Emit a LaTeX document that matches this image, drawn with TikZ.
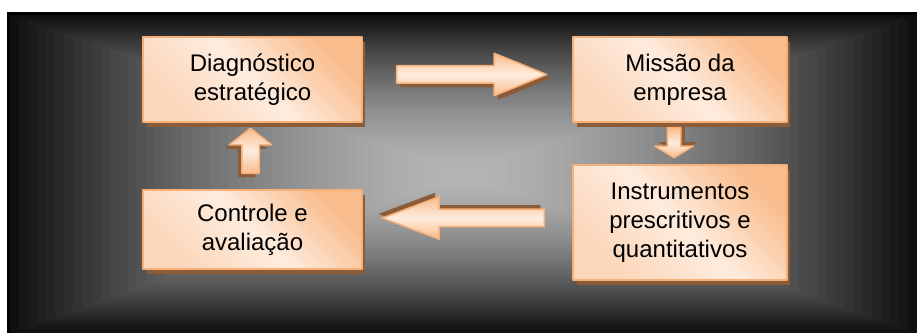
\documentclass[tikz,border=0pt]{standalone}
\usepackage{fontspec}
\setmainfont{Liberation Sans}
\usetikzlibrary{calc}
\usetikzlibrary{shapes.arrows}
\usetikzlibrary{shadows}

\definecolor{peachdark}{RGB}{249,188,140}
\definecolor{peachmid}{RGB}{251,214,186}
\definecolor{peachlight}{RGB}{254,236,222}
\definecolor{peachline}{RGB}{246,176,122}
\definecolor{shadowbrown}{RGB}{140,92,56}

\begin{document}
\begin{tikzpicture}[x=0.02cm, y=-0.02cm, line join=round]
\tikzstyle{stage}=[draw=peachline, line width=0.04cm, left color=peachmid, right color=peachdark, middle color=peachlight, shading angle=135, align=center, font=\fontsize{13.66pt}{16.4pt}\selectfont, drop shadow={shadow xshift=0.07cm, shadow yshift=-0.1cm, fill=shadowbrown, opacity=1}]
\tikzstyle{blockarrow}=[single arrow, draw=peachline, line width=0.03cm, top color=peachdark, bottom color=peachdark, middle color=peachlight, single arrow head indent=0cm, inner sep=0.16cm, anchor=tail]
\useasboundingbox (0,0) rectangle (917,333);

% dark frame, lighter towards the middle
\fill[black] (7,12) rectangle (917,333);
\foreach \i in {0,...,49}{
  \pgfmathsetmacro{\f}{1-\i/50}
  \pgfmathsetmacro{\k}{29+65*\f^1.6}
  \fill[black!\k] ({463.5-453.5*\f},{174-159*\f}) rectangle ({463.5+453.5*\f},{174+159*\f});
}

\node[stage, minimum width=4.38cm, minimum height=1.70cm] (diag) at (252.5,79.5) {Diagn\'ostico\\estrat\'egico};
\node[stage, minimum width=4.28cm, minimum height=1.70cm] (missao) at (680,79.5) {Miss\~ao da\\empresa};
\node[stage, minimum width=4.28cm, minimum height=2.30cm] (instr) at (680,222.5) {Instrumentos\\prescritivos e\\quantitativos};
\node[stage, minimum width=4.38cm, minimum height=1.58cm] (controle) at (252.5,229.5) {Controle e\\avalia\c{c}\~ao};

\node[blockarrow, minimum height=3.0cm, minimum width=0.64cm, single arrow tip angle=44,
  drop shadow={shadow xshift=0.08cm, shadow yshift=-0.08cm, fill=shadowbrown, opacity=1}]
  (a1) at ($(diag.east)+(33,-5)$) {};
\node[blockarrow, inner sep=0.12cm, minimum height=0.6cm, minimum width=0.74cm, single arrow tip angle=118, rotate=-90,
  drop shadow={shadow xshift=0.08cm, shadow yshift=0.08cm, fill=shadowbrown, opacity=1}]
  (a2) at ($(missao.south)+(-6,4)$) {};
\node[blockarrow, minimum height=3.24cm, minimum width=0.64cm, single arrow tip angle=41, rotate=180,
  drop shadow={shadow xshift=-0.08cm, shadow yshift=0.08cm, fill=shadowbrown, opacity=1}]
  (a3) at ($(instr.west)+(-27,-4.5)$) {};
\node[blockarrow, minimum height=0.9cm, minimum width=0.72cm, single arrow tip angle=104, rotate=90,
  drop shadow={shadow xshift=-0.08cm, shadow yshift=-0.08cm, fill=shadowbrown, opacity=1}]
  (a4) at ($(controle.north)+(-2,-15)$) {};
\end{tikzpicture}
\end{document}
